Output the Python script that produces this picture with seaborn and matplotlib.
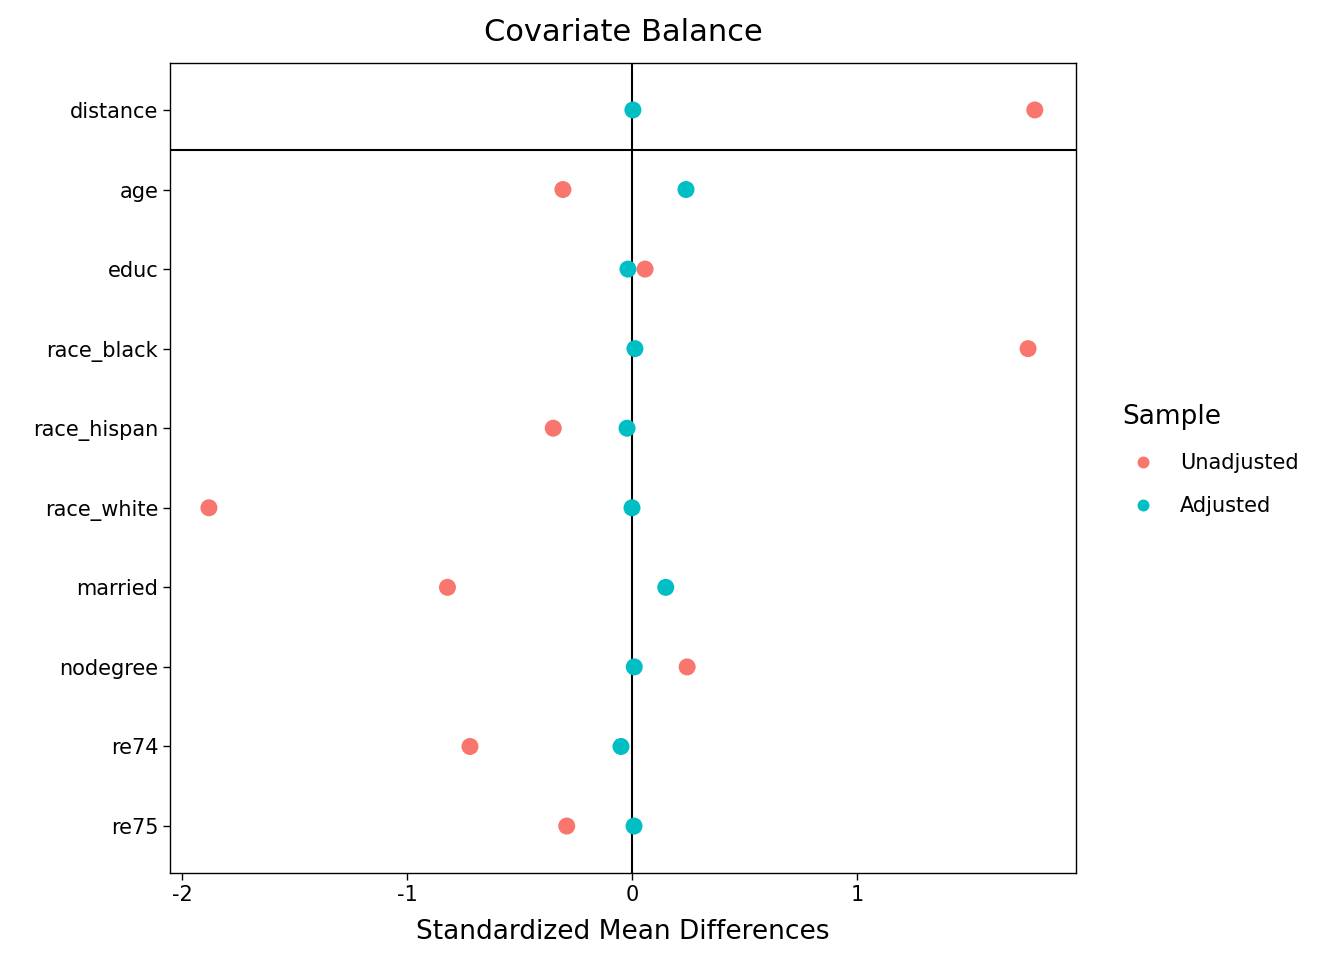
import matplotlib
matplotlib.use("Agg")
import matplotlib.pyplot as plt
import seaborn as sns
import pandas as pd

covariates = ["distance", "age", "educ", "race_black", "race_hispan", "race_white",
              "married", "nodegree", "re74", "re75"]
unadjusted = [1.79, -0.307, 0.058, 1.76, -0.35, -1.88, -0.82, 0.245, -0.72, -0.29]
adjusted = [0.004, 0.24, -0.018, 0.013, -0.022, 0.0, 0.15, 0.01, -0.049, 0.009]

df = pd.concat([
    pd.DataFrame({"cov": covariates, "smd": unadjusted, "Sample": "Unadjusted"}),
    pd.DataFrame({"cov": covariates, "smd": adjusted, "Sample": "Adjusted"}),
])

sns.set_style("white")
plt.rcParams['font.family'] = ['DejaVu Sans']
plt.rcParams['text.color'] = 'black'
fig = plt.figure(figsize=(13.44, 9.6), dpi=100)
ax = fig.add_axes([170/1344, 87/960, 906/1344, 810/960])
ax.axvline(0, color="black", lw=1.5, zorder=1)
ax.axhline(0.5, color="black", lw=1.5, zorder=1)
sns.scatterplot(data=df, x="smd", y="cov", hue="Sample",
                palette={"Unadjusted": "#F8766D", "Adjusted": "#00BFC4"},
                s=150, edgecolor="none", ax=ax, zorder=3)
ax.set_xlim(-2.053, 1.973)
ax.set_ylim(9.59, -0.59)
ax.set_xticks([-2, -1, 0, 1])
ax.set_xticklabels(["-2", "-1", "0", "1"])
ax.tick_params(axis="both", labelsize=15, length=5, width=1, color="black", labelcolor="black", left=True, bottom=True)
ax.set_xlabel("Standardized Mean Differences", fontsize=19, color="black", labelpad=10)
ax.set_ylabel("")
for s in ax.spines.values():
    s.set_color("black"); s.set_linewidth(1)
ax.set_title("Covariate Balance", fontsize=22, pad=16, color="black")
leg = ax.legend(title="Sample", loc="center left", bbox_to_anchor=(1.03, 0.51),
                frameon=False, fontsize=15, title_fontsize=19, markerscale=0.7,
                labelspacing=1.1)
leg._legend_box.align = "left"
for t in leg.get_texts():
    t.set_color("black")
leg.get_title().set_color("black")
fig.savefig("out.png", dpi=100)
